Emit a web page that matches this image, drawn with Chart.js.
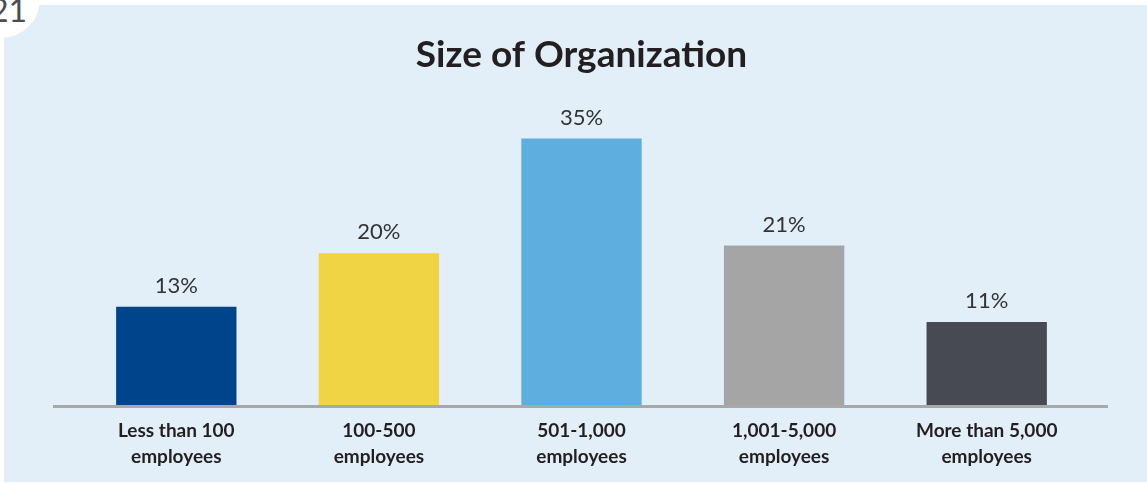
<!DOCTYPE html>
<html lang="en">
<head>
  <meta charset="UTF-8">
  <title>Size of Organization</title>
  <script src="https://cdn.jsdelivr.net/npm/chart.js"></script>
  <style>
    html, body { margin: 0; padding: 0; background: #ffffff; width: 1147px; height: 483px; overflow: hidden; }
    #panel { position: absolute; left: 4px; top: 5px; width: 1143px; height: 477px; background: #e2eef8; }
    #badge {
      position: absolute; left: -38px; top: -40px; width: 78px; height: 78px;
      border-radius: 50%; background: #ffffff;
    }
    #badge span {
      position: absolute; left: 28px; top: 34px;
      font-family: 'Lato', sans-serif; font-size: 32px; color: #4a4d55; line-height: 32px;
    }
    #wrap { position: absolute; left: 0; top: 0; width: 1147px; height: 483px; }
  </style>
</head>
<body>
  <div id="panel"></div>
  <div id="badge"><span>21</span></div>
  <div id="wrap"><canvas id="orgChart"></canvas></div>

  <script>
    const categories = [
      ['Less than 100', 'employees'],
      ['100-500', 'employees'],
      ['501-1,000', 'employees'],
      ['1,001-5,000', 'employees'],
      ['More than 5,000', 'employees']
    ];
    const shares = [13, 20, 35, 21, 11];
    const barColors = ['#00448b', '#f0d443', '#5eaee0', '#a5a5a5', '#474a53'];

    // value labels above each bar + extended baseline
    const barLabels = {
      id: 'barLabels',
      afterDatasetsDraw(chart) {
        const ctx = chart.ctx;
        const meta = chart.getDatasetMeta(0);
        ctx.save();
        ctx.font = '22px Lato';
        ctx.fillStyle = '#333333';
        ctx.textAlign = 'center';
        ctx.textBaseline = 'middle';
        meta.data.forEach((bar, i) => {
          ctx.fillText(shares[i] + '%', bar.x, bar.y - 21);
        });
        const y0 = chart.scales.y.getPixelForValue(0);
        ctx.strokeStyle = '#a8a8a8';
        ctx.lineWidth = 3;
        ctx.beginPath();
        ctx.moveTo(chart.chartArea.left - 22, y0 + 0.5);
        ctx.lineTo(chart.chartArea.right + 20, y0 + 0.5);
        ctx.stroke();
        ctx.restore();
      }
    };

    new Chart(document.getElementById('orgChart'), {
      type: 'bar',
      data: {
        labels: categories,
        datasets: [{
          data: shares,
          backgroundColor: barColors,
          barPercentage: 0.6,
          categoryPercentage: 0.99
        }]
      },
      options: {
        responsive: true,
        maintainAspectRatio: false,
        animation: false,
        layout: { padding: { left: 75, right: 59, top: 0, bottom: 1 } },
        plugins: {
          legend: { display: false },
          tooltip: { enabled: false },
          title: {
            display: true,
            text: 'Size of Organization',
            color: '#231f20',
            font: { family: 'Lato', size: 37, weight: 'bold', lineHeight: 1.2 },
            padding: { top: 33, bottom: 23 }
          }
        },
        scales: {
          y: { display: false, min: 0, max: 40 },
          x: {
            grid: { display: false, drawTicks: false },
            border: { display: false },
            ticks: {
              color: '#231f20',
              font: { family: 'Lato', size: 19, weight: 'bold', lineHeight: 1.37 },
              padding: 12,
              maxRotation: 0,
              autoSkip: false
            }
          }
        }
      },
      plugins: [barLabels]
    });
  </script>
</body>
</html>
